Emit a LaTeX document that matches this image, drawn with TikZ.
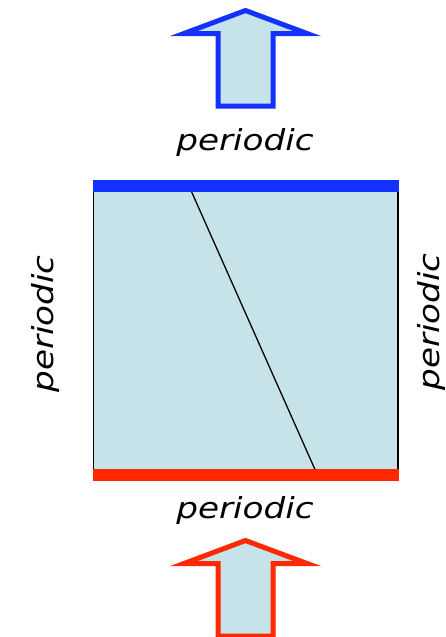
\documentclass[tikz,border=0pt]{standalone}
\usepackage{fontspec}
\setmainfont{DejaVu Sans}
\definecolor{paleblue}{RGB}{197,227,232}
\definecolor{bdblue}{RGB}{20,50,255}
\definecolor{bdred}{RGB}{255,40,0}
\newcommand{\perlabel}{\scalebox{1.18}[1]{\fontsize{29}{32}\selectfont\itshape periodic}}
\begin{document}
\begin{tikzpicture}[x=1pt,y=-1pt,
  bigarrow/.style={fill=paleblue,line width=5pt,line join=miter},
  bar/.style={line width=12pt},
  lbl/.style={inner sep=0pt,anchor=base}]
\useasboundingbox (0,0) rectangle (445,637);
% box
\fill[paleblue] (93.5,186) rectangle (398,474);
\draw[line width=1.5pt] (93.5,186) -- (93.5,474);
\draw[line width=1.5pt] (398,186) -- (398,474);
\coordinate (dtop) at (189,186);
\coordinate (dbot) at (317,474);
\draw[line width=1.3pt] (dtop) -- (dbot);
\draw[bar,draw=bdblue] (93,186) -- (398.5,186);
\draw[bar,draw=bdred] (93,474.5) -- (398.5,474.5);
% arrows
\draw[bigarrow,draw=bdblue] (245.5,10.5) -- (307,33.5) -- (273,33.5) -- (273,106) -- (218,106) -- (218,33.5) -- (184,33.5) -- cycle;
\begin{scope}[yshift=-530pt]
\draw[bigarrow,draw=bdred] (245.5,10.5) -- (307,33.5) -- (273,33.5) -- (273,106) -- (218,106) -- (218,33.5) -- (184,33.5) -- cycle;
\end{scope}
% labels
\node[lbl] (ltop) at (245,150) {\perlabel};
\node[lbl] (lbot) at (245,518) {\perlabel};
\node[lbl,rotate=90] (lleft) at (53,324) {\perlabel};
\node[lbl,rotate=90] (lright) at (439,322) {\perlabel};
\end{tikzpicture}
\end{document}
